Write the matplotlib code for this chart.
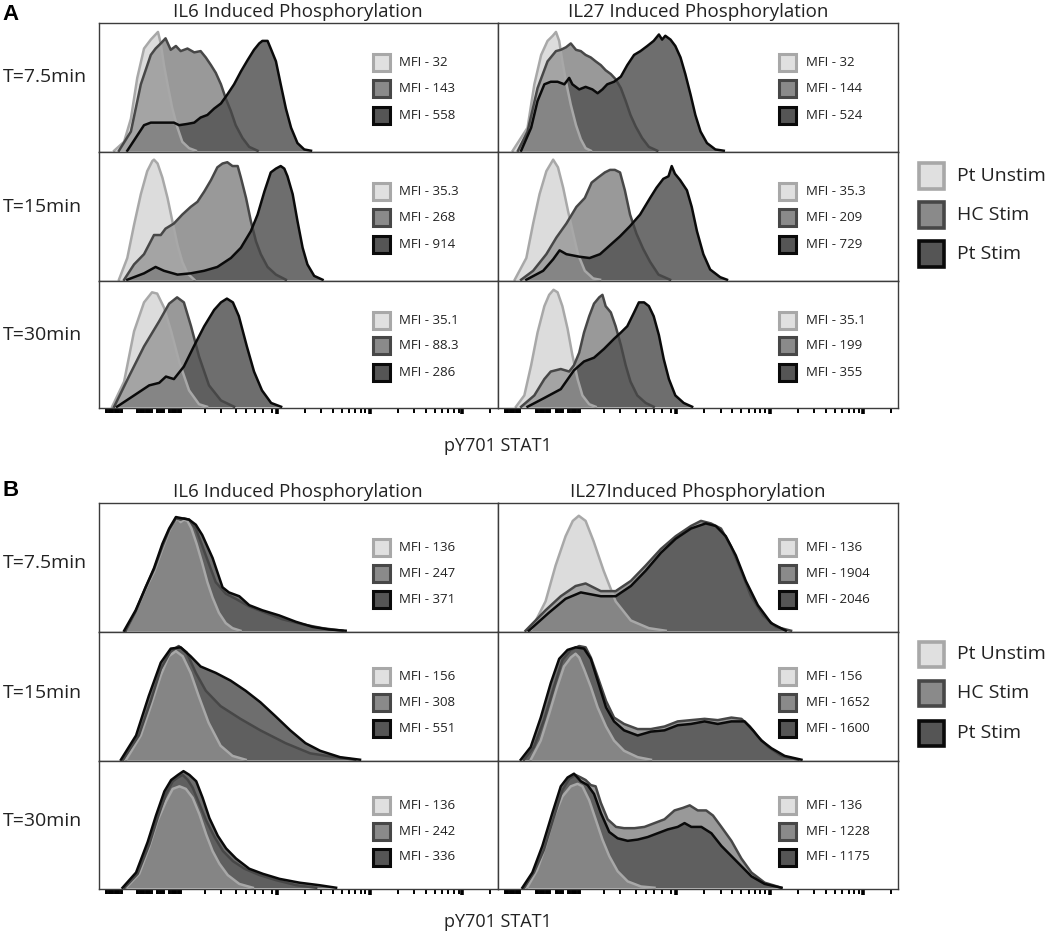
import numpy as np
import matplotlib
matplotlib.use("Agg")
from matplotlib import pyplot as plt
from matplotlib.patches import Rectangle

# x: channel position across a panel (0-1000), y: % of panel height
groups = ["Pt Unstim", "HC Stim", "Pt Stim"]

# ---- A, IL6 ----
a_il6_75_unstim = [(38,0),(63,7),(80,25),(96,57),(113,80),(130,87),(142,91),(148,93),(155,84),(163,67),(172,52),(184,33),(197,18),(209,7),(226,2),(243,0)]
a_il6_75_hc = [(50,0),(80,15),(105,52),(130,75),(142,80),(155,84),(167,88),(180,79),(193,82),(205,78),(222,80),(239,77),(255,78),(268,73),(281,67),(293,61),(306,52),(318,41),(331,31),(343,20),(360,10),(377,3),(398,0)]
a_il6_75_pt = [(71,0),(92,10),(113,20),(130,22),(188,22),(201,20),(222,21),(239,22),(255,26),(272,28),(289,33),(306,37),(322,44),(339,52),(356,62),(373,71),(389,79),(402,84),(410,86),(423,86),(431,80),(444,70),(456,52),(469,33),(482,18),(498,6),(515,1),(532,0)]

a_il6_15_unstim = [(50,0),(71,17),(88,43),(105,67),(121,85),(134,93),(138,94),(147,91),(159,80),(172,64),(184,46),(197,27),(209,14),(222,5),(239,0)]
a_il6_15_hc = [(63,0),(88,12),(113,20),(138,35),(155,35),(167,40),(188,44),(209,51),(230,57),(247,61),(264,69),(281,78),(297,88),(310,91),(322,92),(335,89),(348,89),(356,80),(369,64),(381,46),(394,30),(406,20),(423,10),(444,4),(469,0)]
a_il6_15_pt = [(71,0),(113,5),(142,10),(163,7),(197,4),(230,5),(264,7),(297,10),(331,17),(356,25),(381,38),(398,51),(415,69),(431,84),(444,87),(456,89),(465,87),(473,81),(486,67),(498,46),(511,25),(523,12),(540,3),(561,0)]

a_il6_30_unstim = [(33,0),(63,20),(88,60),(113,83),(133,91),(146,90),(163,79),(181,60),(201,36),(226,13),(251,2),(271,0)]
a_il6_30_hc = [(38,0),(75,24),(113,48),(151,68),(176,82),(196,87),(213,83),(231,64),(251,40),(276,17),(306,5),(339,0)]
a_il6_30_pt = [(45,0),(88,9),(126,17),(151,19),(168,24),(188,22),(213,32),(238,48),(264,64),(289,77),(306,83),(321,86),(336,83),(351,72),(371,48),(389,28),(409,13),(432,3),(457,0)]

# ---- A, IL27 ----
a_il27_75_unstim = [(38,0),(75,18),(92,52),(109,75),(125,86),(138,90),(146,93),(154,86),(162,70),(171,54),(183,36),(196,20),(208,9),(220,2),(233,0)]
a_il27_75_hc = [(51,0),(75,15),(100,49),(125,70),(146,78),(158,79),(171,81),(183,84),(196,79),(208,78),(220,75),(233,73),(245,70),(258,67),(270,63),(283,60),(295,56),(308,49),(320,39),(332,28),(345,19),(361,10),(378,3),(399,0)]
a_il27_75_pt = [(59,0),(84,18),(100,39),(117,52),(133,54),(150,54),(167,52),(179,57),(187,52),(204,48),(220,50),(237,48),(250,45),(262,48),(274,52),(291,54),(308,58),(324,67),(341,75),(357,78),(374,82),(390,86),(403,91),(411,87),(419,90),(432,87),(444,82),(457,73),(469,60),(482,44),(494,28),(507,15),(523,6),(544,1),(565,0)]

a_il27_15_unstim = [(43,0),(72,17),(89,44),(105,67),(122,85),(139,94),(151,88),(164,72),(176,54),(189,36),(201,20),(218,7),(239,1),(256,0)]
a_il27_15_hc = [(59,0),(89,7),(122,20),(147,33),(172,44),(197,57),(218,64),(235,76),(251,80),(268,84),(281,86),(293,86),(306,84),(318,70),(331,51),(347,36),(364,24),(381,14),(402,4),(431,0)]
a_il27_15_pt = [(72,0),(114,7),(139,16),(155,23),(172,20),(205,18),(230,17),(256,20),(281,27),(306,34),(331,42),(356,51),(381,64),(397,72),(414,79),(427,81),(435,89),(443,83),(456,78),(473,70),(485,57),(498,38),(514,20),(531,8),(556,2),(573,0)]

a_il27_30_unstim = [(46,0),(67,9),(84,33),(100,59),(117,80),(129,89),(140,93),(150,91),(162,80),(175,62),(187,41),(200,22),(212,9),(229,2),(245,0)]
a_il27_30_hc = [(59,0),(92,9),(117,22),(133,28),(158,30),(179,28),(191,33),(204,43),(216,59),(229,72),(241,82),(254,87),(262,89),(270,80),(283,75),(295,64),(308,49),(320,33),(332,20),(349,9),(370,3),(390,0)]
a_il27_30_pt = [(75,0),(117,7),(158,14),(191,29),(216,36),(241,39),(266,46),(291,54),(308,59),(324,64),(341,75),(353,83),(366,83),(378,80),(390,72),(403,57),(415,38),(428,22),(444,9),(465,3),(486,0)]

# ---- B, IL6 ----
b_il6_75_unstim = [(67,0),(92,15),(117,33),(138,46),(159,64),(176,78),(188,85),(197,88),(205,85),(213,87),(222,86),(232,80),(245,68),(259,53),(272,38),(285,26),(301,14),(318,6),(335,2),(355,0)]
b_il6_75_hc = [(67,0),(92,15),(117,34),(138,48),(159,66),(176,79),(193,88),(205,87),(213,88),(226,87),(243,80),(268,59),(293,38),(318,29),(343,25),(377,19),(410,15),(460,9),(511,5),(561,2),(611,0)]
b_il6_75_pt = [(63,0),(92,16),(117,34),(138,49),(159,68),(176,80),(193,89),(209,88),(226,87),(243,83),(259,75),(285,57),(310,34),(326,30),(352,27),(377,20),(410,16),(452,12),(494,7),(536,3),(577,1),(619,0)]

b_il6_15_unstim = [(68,0),(105,19),(130,42),(155,66),(175,81),(193,85),(210,81),(230,68),(250,50),(275,29),(305,11),(335,3),(368,0)]
b_il6_15_hc = [(60,0),(100,19),(130,46),(155,71),(180,85),(200,89),(220,84),(243,68),(268,54),(305,42),(355,32),(405,23),(468,13),(530,5),(593,2),(643,0)]
b_il6_15_pt = [(55,0),(93,19),(125,50),(155,76),(180,87),(205,88),(230,81),(255,73),(293,68),(330,62),(368,54),(405,45),(443,34),(480,23),(518,13),(555,7),(605,2),(655,0)]

b_il6_30_unstim = [(68,0),(101,11),(126,32),(147,53),(168,68),(185,78),(202,80),(218,78),(235,71),(252,58),(269,42),(285,29),(302,19),(323,10),(352,3),(386,0)]
b_il6_30_hc = [(64,0),(97,11),(126,34),(147,55),(168,74),(185,84),(198,87),(210,89),(223,85),(235,79),(252,66),(269,53),(290,40),(311,29),(336,21),(365,15),(403,10),(444,6),(495,2),(545,0)]
b_il6_30_pt = [(59,0),(93,12),(122,36),(143,57),(164,76),(181,85),(198,89),(212,92),(227,89),(244,84),(260,71),(277,55),(298,41),(319,31),(344,23),(377,15),(411,11),(453,7),(503,4),(553,2),(595,0)]

# ---- B, IL27 ----
b_il27_75_unstim = [(83,0),(120,23),(145,51),(170,74),(188,86),(203,90),(220,86),(240,70),(265,47),(295,23),(333,8),(378,2),(420,0)]
b_il27_75_hc = [(70,0),(120,16),(158,27),(195,35),(220,37),(258,31),(295,31),(333,39),(370,51),(408,64),(445,74),(483,82),(508,86),(533,84),(558,80),(583,66),(608,47),(633,27),(663,12),(695,3),(733,0)]
b_il27_75_pt = [(78,0),(128,14),(170,25),(208,30),(258,27),(295,27),(333,35),(370,47),(408,61),(445,72),(483,80),(520,84),(545,82),(570,74),(595,59),(620,39),(650,20),(683,6),(720,0)]

b_il27_15_unstim = [(83,0),(108,15),(129,36),(149,57),(166,73),(183,80),(195,83),(204,80),(216,71),(233,57),(250,41),(271,26),(291,15),(316,7),(350,2),(383,0)]
b_il27_15_hc = [(66,0),(91,10),(116,31),(141,57),(162,78),(183,86),(204,89),(220,88),(233,80),(250,65),(271,46),(291,33),(316,28),(350,24),(383,24),(417,26),(450,30),(483,31),(517,32),(550,31),(584,33),(609,32),(630,26),(650,18),(676,10),(709,3),(751,0)]
b_il27_15_pt = [(58,0),(83,10),(108,33),(133,60),(154,79),(175,86),(195,88),(216,87),(233,79),(250,62),(271,41),(291,30),(316,23),(350,19),(383,22),(417,23),(450,27),(483,28),(517,30),(550,28),(584,30),(617,30),(638,23),(659,15),(684,9),(717,3),(759,0)]

b_il27_30_unstim = [(74,0),(99,14),(120,33),(141,56),(162,72),(183,80),(200,82),(212,80),(229,69),(245,54),(262,38),(279,25),(300,13),(325,5),(358,1),(392,0)]
b_il27_30_hc = [(66,0),(91,12),(116,30),(141,56),(162,77),(179,86),(195,89),(208,87),(220,85),(233,81),(245,80),(258,67),(275,54),(296,48),(316,47),(342,47),(367,48),(392,51),(417,54),(442,61),(463,63),(480,65),(500,61),(521,61),(538,57),(559,48),(584,37),(609,23),(634,12),(667,4),(709,0)]
b_il27_30_pt = [(62,0),(87,12),(112,33),(137,59),(158,80),(175,87),(191,90),(208,84),(225,81),(241,74),(258,59),(279,44),(300,39),(325,37),(350,38),(375,40),(400,43),(425,46),(450,48),(467,51),(484,48),(509,48),(534,43),(559,33),(584,25),(609,17),(634,9),(667,3),(709,0)]

mfi_a_il6 = [["32", "143", "558"], ["35.3", "268", "914"], ["35.1", "88.3", "286"]]
mfi_a_il27 = [["32", "144", "524"], ["35.3", "209", "729"], ["35.1", "199", "355"]]
mfi_b_il6 = [["136", "247", "371"], ["156", "308", "551"], ["136", "242", "336"]]
mfi_b_il27 = [["136", "1904", "2046"], ["156", "1652", "1600"], ["136", "1228", "1175"]]

row_labels = ["T=7.5min", "T=15min", "T=30min"]
titles_a = ["IL6 Induced Phosphorylation", "IL27 Induced Phosphorylation"]
titles_b = ["IL6 Induced Phosphorylation", "IL27Induced Phosphorylation"]
x_label = "pY701 STAT1"

curves_a = [
    [[a_il6_75_unstim, a_il6_75_hc, a_il6_75_pt], [a_il27_75_unstim, a_il27_75_hc, a_il27_75_pt]],
    [[a_il6_15_unstim, a_il6_15_hc, a_il6_15_pt], [a_il27_15_unstim, a_il27_15_hc, a_il27_15_pt]],
    [[a_il6_30_unstim, a_il6_30_hc, a_il6_30_pt], [a_il27_30_unstim, a_il27_30_hc, a_il27_30_pt]],
]
curves_b = [
    [[b_il6_75_unstim, b_il6_75_hc, b_il6_75_pt], [b_il27_75_unstim, b_il27_75_hc, b_il27_75_pt]],
    [[b_il6_15_unstim, b_il6_15_hc, b_il6_15_pt], [b_il27_15_unstim, b_il27_15_hc, b_il27_15_pt]],
    [[b_il6_30_unstim, b_il6_30_hc, b_il6_30_pt], [b_il27_30_unstim, b_il27_30_hc, b_il27_30_pt]],
]

# styles
fill_colors = ["#b3b3b3", "#555555", "#6e6e6e"]
fill_alpha = [0.46, 0.6, 1.0]
edge_colors = ["#a8a8a8", "#474747", "#0a0a0a"]
swatch_colors = ["#e0e0e0", "#8a8a8a", "#555555"]

W, H = 1050, 933
plt.rcParams['font.family'] = ['Open Sans', 'DejaVu Sans']
fig = plt.figure(figsize=(W / 100, H / 100), dpi=100)


def fx(px):
    return px / W


def fy(py):
    return 1 - py / H


col_left = [99, 497.5]
col_w = [398.5, 400.5]
sw_cx = [0.708, 0.725]

minor_ticks = [265, 307, 345, 370, 391, 411, 433]
for d in [446, 680, 912]:
    minor_ticks += [d + 233 * np.log10(k) for k in range(2, 10) if d + 233 * np.log10(k) < 1000]
dense_ticks = np.concatenate([np.arange(18, 59, 3), np.arange(96, 135, 3),
                              np.arange(146, 165, 3), np.arange(176, 208, 3)])
major_ticks = [446, 680, 912]


def draw_block(rows_px, curves, mfis, titles, letter, leg_y, outer_y, letter_y, label_dy, xlab_dy):
    for c in range(2):
        fig.text(fx(col_left[c] + col_w[c] / 2), fy(rows_px[0] - 11), titles[c],
                 ha="center", va="center", fontsize=13.5, color="#222222")
    for r in range(3):
        top, bot = rows_px[r], rows_px[r + 1]
        fig.text(fx(3), fy((top + bot) / 2 - label_dy), row_labels[r], ha="left", va="center",
                 fontsize=14, color="#222222")
        for c in range(2):
            ax = fig.add_axes([fx(col_left[c]), fy(bot), col_w[c] / W, (bot - top) / H])
            ax.set_xlim(0, 1000)
            ax.set_ylim(-1, 100)
            sets = curves[r][c]
            for g in [2, 1, 0]:
                xs = [p[0] for p in sets[g]]
                ys = [p[1] for p in sets[g]]
                ax.fill_between(xs, 0, ys, color=fill_colors[g], alpha=fill_alpha[g], lw=0)
            for g in [0, 1, 2]:
                xs = [p[0] for p in sets[g]]
                ys = [p[1] for p in sets[g]]
                ax.plot(xs, ys, color=edge_colors[g], lw=1.8, solid_joinstyle="round")
            for g in range(3):
                w_ax, h_ax = 17 / col_w[c], 17 / (bot - top)
                ax.add_patch(Rectangle((sw_cx[c] - w_ax / 2, leg_y[g] - h_ax / 2), w_ax, h_ax,
                                       transform=ax.transAxes, facecolor=swatch_colors[g],
                                       edgecolor=edge_colors[g], lw=2.2, zorder=5))
                ax.text(sw_cx[c] + 0.045, leg_y[g], "MFI - " + mfis[c][r][g], transform=ax.transAxes,
                        ha="left", va="center", fontsize=9.5, color="#222222", zorder=6)
            for s in ax.spines.values():
                s.set_color("#3c3c3c")
                s.set_linewidth(1.0)
            ax.set_yticks([])
            if r == 2:
                ax.set_xticks(major_ticks)
                ax.set_xticks(list(minor_ticks) + list(dense_ticks), minor=True)
                ax.set_xticklabels([])
                ax.tick_params(axis="x", which="major", direction="out", length=4.5, width=2.6, color="#000000")
                ax.tick_params(axis="x", which="minor", direction="out", length=3.5, width=1.4, color="#000000")
            else:
                ax.set_xticks([])
    fig.text(fx(498), fy(rows_px[3] + xlab_dy), x_label, ha="center", va="center", fontsize=13, color="#222222")
    fig.text(fx(2), fy(letter_y), letter, ha="left", va="center", fontsize=16, fontweight="bold",
             family="Liberation Sans", color="#000000")
    for g in range(3):
        fig.add_artist(Rectangle((fx(918.5), fy(outer_y[g] + 12.5)), 25 / W, 25 / H,
                                 transform=fig.transFigure, facecolor=swatch_colors[g],
                                 edgecolor=edge_colors[g], lw=2.6))
        fig.text(fx(957), fy(outer_y[g]), groups[g], ha="left", va="center", fontsize=14, color="#222222")


draw_block([23, 152, 281, 408], curves_a, [mfi_a_il6, mfi_a_il27], titles_a, "A",
           [0.69, 0.49, 0.28], [176, 215, 254], 15, 10, 38)
draw_block([503, 632, 761, 889], curves_b, [mfi_b_il6, mfi_b_il27], titles_b, "B",
           [0.655, 0.45, 0.25], [654, 693, 733], 490, 4, 33)

fig.savefig("out.png", dpi=100)
